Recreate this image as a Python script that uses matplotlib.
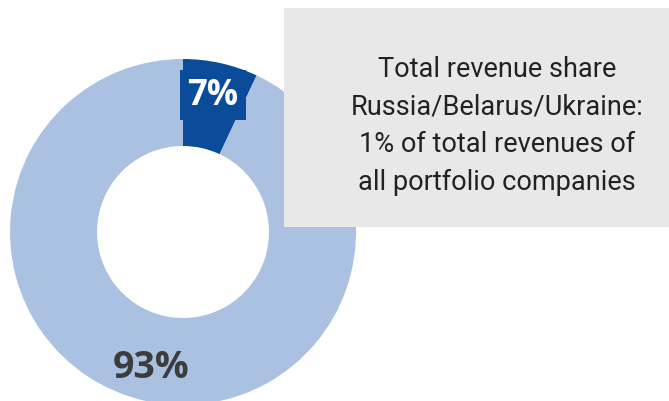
import matplotlib.pyplot as plt
from matplotlib.patches import Rectangle

shares = [7, 93]
labels = ['7%', '93%']
colors = ['#0a4c9a', '#abc1e2']
note = 'Total revenue share\nRussia/Belarus/Ukraine:\n1% of total revenues of\nall portfolio companies'

plt.rcParams['font.family'] = ['Open Sans', 'DejaVu Sans']

W, H = 669, 402
fig = plt.figure(figsize=(W / 100, H / 100), dpi=100)
ax = fig.add_axes([0, 0, 1, 1])

cx, cy = 183, H - 233
r = 173
ax.pie(shares, colors=colors, startangle=90, counterclock=False,
       center=(cx, cy), radius=r, wedgeprops=dict(width=87, linewidth=0))

# grey note box
ax.add_patch(Rectangle((284, H - 228), W - 284, 219, facecolor='#e8e8e8',
                       edgecolor='none', zorder=3))
ax.text(497, H - 126, note, ha='center', va='center', fontsize=19.5,
        family=['Roboto', 'Open Sans'],
        color='#222222', linespacing=1.5, zorder=4)

ax.text(213, H - 96, labels[0], ha='center', va='center', fontsize=25,
        fontweight='bold', color='white', zorder=5,
        bbox=dict(boxstyle='square,pad=0.2', facecolor=colors[0], edgecolor='none'))
ax.text(151, H - 368, labels[1], ha='center', va='center', fontsize=27,
        fontweight='bold', color='#3c3c3c', zorder=5)

ax.set_xlim(0, W)
ax.set_ylim(0, H)
ax.set_aspect('equal')
ax.axis('off')

fig.savefig('out.png', dpi=100)
